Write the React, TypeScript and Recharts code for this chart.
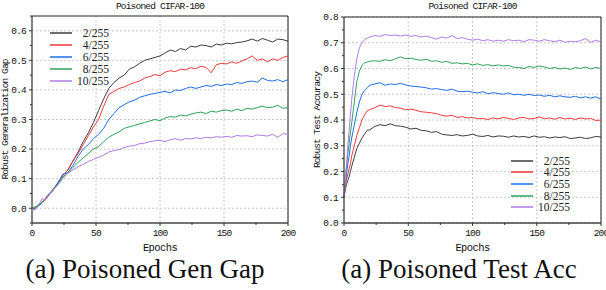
import { LineChart, Line, XAxis, YAxis, CartesianGrid, ReferenceLine } from 'recharts';

const epochs = [
  0, 1, 2, 3, 4, 5, 6, 8, 10, 12, 14, 16, 18, 20, 24, 28, 32, 36, 40, 44, 48, 52, 56, 60, 64, 68, 72, 76, 80,
  84, 88, 92, 96, 100, 104, 108, 112, 116, 120, 124, 128, 132, 136, 140, 144, 148, 152, 156, 160, 164, 168,
  172, 176, 180, 184, 188, 192, 196, 200,
];

const seriesNames = ['2/255', '4/255', '6/255', '8/255', '10/255'];
const seriesColors = ['#3c3c3c', '#f03a3a', '#1f6ee6', '#2ca35a', '#b07be8'];

// robust generalization gap
const gap2 = [
  0, 0, -0.004, 0.002, 0.006, 0.01, 0.012, 0.022, 0.03, 0.042, 0.05, 0.062, 0.072, 0.085, 0.112, 0.128, 0.16, 0.19,
  0.225, 0.255, 0.29, 0.33, 0.37, 0.405, 0.425, 0.44, 0.45, 0.47, 0.478, 0.49, 0.5, 0.505, 0.51, 0.515, 0.525, 0.535,
  0.53, 0.54, 0.535, 0.548, 0.545, 0.552, 0.55, 0.545, 0.555, 0.552, 0.558, 0.556, 0.56, 0.562, 0.566, 0.572, 0.565,
  0.574, 0.568, 0.562, 0.572, 0.57, 0.565,
];
const gap4 = [
  0, 0.002, 0, 0.004, 0.008, 0.01, 0.014, 0.02, 0.026, 0.036, 0.048, 0.058, 0.07, 0.082, 0.11, 0.13, 0.16, 0.185,
  0.215, 0.245, 0.275, 0.3, 0.345, 0.385, 0.395, 0.405, 0.41, 0.418, 0.425, 0.43, 0.44, 0.445, 0.452, 0.448, 0.46,
  0.465, 0.462, 0.47, 0.468, 0.475, 0.472, 0.48, 0.476, 0.458, 0.485, 0.49, 0.488, 0.495, 0.49, 0.498, 0.505, 0.515,
  0.5, 0.505, 0.495, 0.505, 0.5, 0.51, 0.515,
];
const gap6 = [
  0, -0.002, 0.002, 0.006, 0.004, 0.01, 0.012, 0.022, 0.03, 0.04, 0.05, 0.06, 0.072, 0.082, 0.115, 0.12, 0.145, 0.175,
  0.2, 0.215, 0.235, 0.25, 0.27, 0.3, 0.32, 0.34, 0.35, 0.36, 0.365, 0.375, 0.38, 0.385, 0.388, 0.392, 0.395, 0.39,
  0.4, 0.398, 0.405, 0.41, 0.405, 0.41, 0.415, 0.412, 0.418, 0.415, 0.42, 0.418, 0.425, 0.422, 0.428, 0.43, 0.426,
  0.44, 0.432, 0.43, 0.435, 0.428, 0.435,
];
const gap8 = [
  0, 0, 0.004, 0.002, 0.008, 0.012, 0.01, 0.02, 0.03, 0.04, 0.048, 0.058, 0.07, 0.08, 0.105, 0.12, 0.138, 0.155, 0.17,
  0.185, 0.2, 0.208, 0.225, 0.24, 0.25, 0.258, 0.27, 0.275, 0.28, 0.285, 0.29, 0.295, 0.3, 0.296, 0.305, 0.31, 0.308,
  0.315, 0.312, 0.318, 0.322, 0.325, 0.32, 0.328, 0.325, 0.33, 0.332, 0.328, 0.335, 0.33, 0.338, 0.335, 0.34, 0.345,
  0.34, 0.342, 0.348, 0.338, 0.34,
];
const gap10 = [
  0, -0.004, -0.006, -0.002, 0.004, 0.006, 0.018, 0.032, 0.028, 0.04, 0.048, 0.06, 0.068, 0.078, 0.1, 0.118, 0.13,
  0.14, 0.148, 0.158, 0.165, 0.172, 0.18, 0.19, 0.195, 0.198, 0.205, 0.21, 0.212, 0.218, 0.22, 0.225, 0.228, 0.23,
  0.225, 0.232, 0.235, 0.23, 0.236, 0.234, 0.238, 0.236, 0.24, 0.238, 0.242, 0.24, 0.243, 0.24, 0.246, 0.244, 0.245,
  0.242, 0.248, 0.246, 0.244, 0.25, 0.24, 0.252, 0.25,
];

// robust test accuracy
const acc2 = [
  0.1, 0.13, 0.15, 0.165, 0.18, 0.2, 0.22, 0.255, 0.29, 0.31, 0.33, 0.345, 0.36, 0.362, 0.375, 0.382, 0.378, 0.385,
  0.378, 0.376, 0.372, 0.365, 0.368, 0.36, 0.358, 0.352, 0.355, 0.345, 0.342, 0.34, 0.343, 0.338, 0.34, 0.345, 0.338,
  0.336, 0.34, 0.334, 0.338, 0.337, 0.333, 0.338, 0.334, 0.336, 0.332, 0.338, 0.333, 0.335, 0.33, 0.334, 0.332,
  0.335, 0.328, 0.33, 0.333, 0.328, 0.331, 0.336, 0.334,
];
const acc4 = [
  0.1, 0.14, 0.17, 0.19, 0.21, 0.23, 0.26, 0.3, 0.34, 0.37, 0.4, 0.42, 0.435, 0.44, 0.448, 0.458, 0.452, 0.455, 0.448,
  0.446, 0.44, 0.442, 0.438, 0.432, 0.43, 0.428, 0.425, 0.418, 0.415, 0.418, 0.41, 0.413, 0.408, 0.41, 0.405, 0.406,
  0.402, 0.408, 0.404, 0.41, 0.406, 0.402, 0.408, 0.41, 0.404, 0.406, 0.412, 0.405, 0.408, 0.403, 0.41, 0.404, 0.407,
  0.402, 0.408, 0.404, 0.406, 0.398, 0.4,
];
const acc6 = [
  0.1, 0.15, 0.19, 0.23, 0.26, 0.3, 0.33, 0.38, 0.43, 0.47, 0.5, 0.515, 0.525, 0.535, 0.54, 0.545, 0.535, 0.54, 0.538,
  0.542, 0.536, 0.532, 0.53, 0.528, 0.525, 0.52, 0.522, 0.518, 0.515, 0.52, 0.512, 0.51, 0.512, 0.508, 0.505, 0.51,
  0.502, 0.506, 0.503, 0.5, 0.505, 0.498, 0.5, 0.496, 0.5, 0.495, 0.497, 0.492, 0.496, 0.49, 0.494, 0.49, 0.488,
  0.492, 0.486, 0.49, 0.485, 0.49, 0.48,
];
const acc8 = [
  0.1, 0.17, 0.22, 0.27, 0.31, 0.35, 0.39, 0.47, 0.55, 0.59, 0.612, 0.622, 0.625, 0.628, 0.63, 0.628, 0.634, 0.63,
  0.638, 0.645, 0.638, 0.64, 0.635, 0.632, 0.636, 0.628, 0.63, 0.624, 0.628, 0.62, 0.622, 0.618, 0.62, 0.614, 0.618,
  0.612, 0.615, 0.61, 0.614, 0.61, 0.612, 0.605, 0.604, 0.6, 0.608, 0.604, 0.61, 0.606, 0.6, 0.604, 0.598, 0.602,
  0.596, 0.604, 0.6, 0.606, 0.598, 0.604, 0.6,
];
const acc10 = [
  0.1, 0.16, 0.23, 0.3, 0.36, 0.42, 0.48, 0.57, 0.64, 0.68, 0.7, 0.712, 0.718, 0.722, 0.728, 0.725, 0.732, 0.728, 0.73,
  0.726, 0.73, 0.725, 0.728, 0.722, 0.726, 0.72, 0.714, 0.722, 0.718, 0.728, 0.716, 0.72, 0.714, 0.71, 0.714, 0.708,
  0.712, 0.706, 0.71, 0.706, 0.712, 0.708, 0.71, 0.704, 0.712, 0.71, 0.706, 0.712, 0.708, 0.704, 0.71, 0.702, 0.706,
  0.704, 0.708, 0.716, 0.702, 0.71, 0.703,
];

const xTicks = [0, 25, 50, 75, 100, 125, 150, 175, 200];
const xLabels = [0, 50, 100, 150, 200];
const gapTicks = [-0.05, 0, 0.05, 0.1, 0.15, 0.2, 0.25, 0.3, 0.35, 0.4, 0.45, 0.5, 0.55, 0.6, 0.65];
const gapLabels = [0, 0.1, 0.2, 0.3, 0.4, 0.5, 0.6];
const accTicks = [0, 0.05, 0.1, 0.15, 0.2, 0.25, 0.3, 0.35, 0.4, 0.45, 0.5, 0.55, 0.6, 0.65, 0.7, 0.75, 0.8];
const accLabels = [0, 0.1, 0.2, 0.3, 0.4, 0.5, 0.6, 0.7, 0.8];

const gapData = epochs.map((e, i) => ({ epoch: e, s0: gap2[i], s1: gap4[i], s2: gap6[i], s3: gap8[i], s4: gap10[i] }));
const accData = epochs.map((e, i) => ({ epoch: e, s0: acc2[i], s1: acc4[i], s2: acc6[i], s3: acc8[i], s4: acc10[i] }));

const mono = '"Liberation Mono", "DejaVu Sans Mono", monospace';
const serif = '"Liberation Serif", "Times New Roman", serif';
const isMajor = (v: number, list: number[]) => list.some((m) => Math.abs(m - v) < 1e-6);

function YTick(props: any) {
  const { x, y, payload, labels } = props;
  const major = isMajor(payload.value, labels);
  const ax = x + 6;
  return (
    <g>
      <line x1={ax - (major ? 3 : 2)} x2={ax} y1={y} y2={y} stroke="#333" />
      {major && (
        <text x={x} y={y} dy="0.35em" textAnchor="end" fontFamily={mono} fontSize={9.5} letterSpacing={-0.8} fill="#111">
          {payload.value.toFixed(1)}
        </text>
      )}
    </g>
  );
}

function XTick(props: any) {
  const { x, y, payload } = props;
  const major = isMajor(payload.value, xLabels);
  const ay = y - 6;
  return (
    <g>
      <line x1={x} x2={x} y1={ay} y2={ay + (major ? 3 : 2)} stroke="#333" />
      {major && (
        <text x={x} y={y} dy="0.75em" textAnchor="middle" fontFamily={mono} fontSize={9.5} letterSpacing={-0.8} fill="#111">
          {payload.value}
        </text>
      )}
    </g>
  );
}

function Panel(props: any) {
  const { data, domain, ticks, labels, yLabel, yWidth, yLabelOffset, right, top, legend } = props;
  return (
    <div style={{ position: 'relative', width: 303, height: 255 }}>
      <div
        style={{
          position: 'absolute', top: 0, left: yWidth, width: 303 - yWidth - right, textAlign: 'center',
          fontFamily: mono, fontSize: 9.5, letterSpacing: -0.8, lineHeight: '13px', color: '#111',
        }}
      >
        Poisoned CIFAR-100
      </div>
      <LineChart width={303} height={255} data={data} margin={{ top, right, bottom: 0, left: 0 }}>
        <CartesianGrid stroke="#c8c8c8" strokeDasharray="2 2" horizontalValues={labels} verticalValues={xLabels} />
        <XAxis
          dataKey="epoch" type="number" domain={[0, 200]} ticks={xTicks} height={32} tickSize={3} tickMargin={3}
          tickLine={false} tick={<XTick />} stroke="#444" strokeWidth={1.3} interval={0}
          label={{ value: 'Epochs', position: 'insideBottom', offset: 4, style: { fontFamily: mono, fontSize: 10.5, fill: '#111', letterSpacing: -0.6 } }}
        />
        <YAxis
          type="number" domain={domain} ticks={ticks} width={yWidth} tickSize={3} tickMargin={3} tickLine={false}
          tick={<YTick labels={labels} />} stroke="#444" strokeWidth={1.3} interval={0} allowDataOverflow
          label={{ value: yLabel, angle: -90, position: 'insideLeft', offset: yLabelOffset, style: { textAnchor: 'middle', fontFamily: mono, fontSize: 9.5, fill: '#111', letterSpacing: -0.9 } }}
        />
        <ReferenceLine y={domain[1]} stroke="#222" strokeWidth={1} />
        <ReferenceLine x={200} stroke="#222" strokeWidth={1} />
        {seriesNames.map((n, i) => (
          <Line key={n} dataKey={'s' + i} name={n} stroke={seriesColors[i]} strokeWidth={1} dot={false} isAnimationActive={false} />
        ))}
      </LineChart>
      <div style={{ position: 'absolute', left: legend.x, top: legend.y }}>
        {seriesNames.map((n, i) => (
          <div key={n} style={{ display: 'flex', alignItems: 'center', height: legend.step }}>
            <svg width={22} height={4}>
              <line x1={0} x2={22} y1={2} y2={2} stroke={seriesColors[i]} strokeWidth={1.5} />
            </svg>
            <span style={{ width: 37, textAlign: 'right', fontFamily: serif, fontSize: 11.5, color: '#222' }}>{n}</span>
          </div>
        ))}
      </div>
    </div>
  );
}

const captionStyle = {
  position: 'absolute' as const, top: 256, textAlign: 'center' as const, whiteSpace: 'nowrap' as const,
  fontFamily: serif, fontSize: 27, lineHeight: '27px', color: '#111',
};

export default function App() {
  return (
    <div style={{ position: 'absolute', left: 0, top: 0, width: 606, height: 290, background: '#fff', overflow: 'hidden' }}>
      <div style={{ display: 'flex' }}>
        <Panel data={gapData} domain={[-0.05, 0.65]} ticks={gapTicks} labels={gapLabels} yLabel="Robust Generalization Gap"
          yWidth={32} yLabelOffset={5} right={15} top={16} legend={{ x: 50, y: 27, step: 12 }} />
        <Panel data={accData} domain={[0, 0.8]} ticks={accTicks} labels={accLabels} yLabel="Robust Test Accuracy"
          yWidth={41} yLabelOffset={14} right={5} top={17} legend={{ x: 208, y: 155, step: 11.6 }} />
      </div>
      <div style={{ ...captionStyle, left: 0, width: 290 }}>(a) Poisoned Gen Gap</div>
      <div style={{ ...captionStyle, left: 318, width: 282 }}>(a) Poisoned Test Acc</div>
    </div>
  );
}
